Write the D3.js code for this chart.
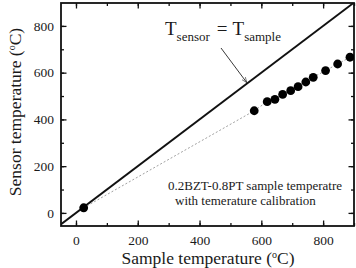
<!DOCTYPE html>
<html>
<head>
<meta charset="utf-8">
<script src="https://cdn.jsdelivr.net/npm/d3@7"></script>
<style>
  body { margin: 0; background: #fff; }
  svg text { font-family: "Liberation Serif", "Times New Roman", serif; fill: #1a1a1a; }
</style>
</head>
<body>
<div id="chart"></div>
<script>
// measured points (sample temp, sensor temp)
const sampleTemp = [25, 577, 619, 644, 669, 695, 719, 744, 768, 808, 847, 887];
const sensorTemp = [22, 437, 476, 486, 507, 523, 540, 560, 580, 609, 637, 666];
const xTicks = [0, 200, 400, 600, 800];
const yTicks = [0, 200, 400, 600, 800];

const margin = { top: 3, right: 2, bottom: 42, left: 61 };
const width = 356 - margin.left - margin.right;
const height = 268 - margin.top - margin.bottom;

const svg = d3.select("#chart")
    .append("svg")
    .attr("width", 356)
    .attr("height", 268)
    .append("g")
    .attr("transform", `translate(${margin.left},${margin.top})`);

const x = d3.scaleLinear().domain([-48.5, 900]).range([0, width]);
const y = d3.scaleLinear().domain([-56, 898]).range([height, 0]);

svg.append("defs").append("clipPath").attr("id", "clip")
    .append("rect").attr("width", width).attr("height", height);

// ticks on all four sides, pointing inward
const minor = d3.range(0, 901, 100);
function tickAxis(axis, scale, vals, len, labels) {
    return axis(scale).tickValues(vals).tickSizeInner(-len).tickSizeOuter(0)
        .tickFormat(labels ? d3.format("d") : "");
}
const bottomG = svg.append("g").attr("transform", `translate(0,${height})`);
bottomG.append("g").call(tickAxis(d3.axisBottom, x, minor, 3, false));
bottomG.append("g").call(tickAxis(d3.axisBottom, x, xTicks, 5.5, true));
const topG = svg.append("g");
topG.append("g").call(tickAxis(d3.axisTop, x, minor, 3, false));
topG.append("g").call(tickAxis(d3.axisTop, x, xTicks, 5.5, false));
const leftG = svg.append("g");
leftG.append("g").call(tickAxis(d3.axisLeft, y, d3.range(0, 801, 100), 3, false));
leftG.append("g").call(tickAxis(d3.axisLeft, y, yTicks, 5.5, true));
const rightG = svg.append("g").attr("transform", `translate(${width},0)`);
rightG.append("g").call(tickAxis(d3.axisRight, y, d3.range(0, 801, 100), 3, false));
rightG.append("g").call(tickAxis(d3.axisRight, y, yTicks, 5.5, false));

svg.selectAll(".domain").remove();
svg.selectAll(".tick line").attr("stroke", "#111").attr("stroke-width", 1.3);
bottomG.selectAll("text").attr("dy", "1.2em").style("font-size", "13.5px");
leftG.selectAll("text").attr("x", -7).style("font-size", "13.5px");

// frame
svg.append("rect")
    .attr("width", width).attr("height", height)
    .attr("fill", "none").attr("stroke", "#111").attr("stroke-width", 1.8);

const plot = svg.append("g").attr("clip-path", "url(#clip)");

// T_sensor = T_sample line
plot.append("line")
    .attr("x1", x(-60)).attr("y1", y(-60))
    .attr("x2", x(920)).attr("y2", y(920))
    .attr("stroke", "#111").attr("stroke-width", 1.8);

// dotted guide through the points
plot.append("path")
    .datum(sampleTemp.map((d, i) => [d, sensorTemp[i]]))
    .attr("fill", "none")
    .attr("stroke", "#888")
    .attr("stroke-width", 0.8)
    .attr("stroke-dasharray", "2,2")
    .attr("d", d3.line().x(d => x(d[0])).y(d => y(d[1])));

plot.selectAll("circle")
    .data(sampleTemp)
    .enter()
    .append("circle")
    .attr("cx", d => x(d))
    .attr("cy", (d, i) => y(sensorTemp[i]))
    .attr("r", 4.4)
    .attr("fill", "#000");

// equation label and arrow
const eq = svg.append("text")
    .attr("x", 165 - margin.left).attr("y", 35 - margin.top)
    .style("font-size", "19px");
eq.append("tspan").text("T");
eq.append("tspan").attr("dy", 6).style("font-size", "13px").text("sensor");
eq.append("tspan").attr("dy", -6).attr("dx", 7).text("=");
eq.append("tspan").attr("dx", 5).text("T");
eq.append("tspan").attr("dy", 6).style("font-size", "13px").text("sample");

svg.append("defs").append("marker")
    .attr("id", "arrow").attr("viewBox", "0 0 10 10")
    .attr("refX", 10).attr("refY", 5)
    .attr("markerWidth", 6).attr("markerHeight", 6)
    .attr("orient", "auto")
    .append("path").attr("d", "M0,1 L10,5 L0,9").attr("fill", "none").attr("stroke", "#222");

svg.append("line")
    .attr("x1", 221 - margin.left).attr("y1", 48 - margin.top)
    .attr("x2", x(553)).attr("y2", y(553) - 1)
    .attr("stroke", "#222").attr("stroke-width", 0.9)
    .attr("marker-end", "url(#arrow)");

// sample description
svg.append("text")
    .attr("x", 168 - margin.left).attr("y", 190 - margin.top)
    .style("font-size", "13px")
    .text("0.2BZT-0.8PT sample temperatre");
svg.append("text")
    .attr("x", 175 - margin.left).attr("y", 205 - margin.top)
    .style("font-size", "13px")
    .text("with temerature calibration");

// axis titles
const xt = svg.append("text")
    .attr("x", 208 - margin.left)
    .attr("y", 264 - margin.top)
    .attr("text-anchor", "middle")
    .style("font-size", "17.5px");
xt.append("tspan").text("Sample temperature (");
xt.append("tspan").attr("dy", -6).style("font-size", "10px").text("o");
xt.append("tspan").attr("dy", 6).text("C)");

const yt = svg.append("text")
    .attr("transform", `translate(${21 - margin.left},${112 - margin.top}) rotate(-90)`)
    .attr("text-anchor", "middle")
    .style("font-size", "17.5px");
yt.append("tspan").text("Sensor temperature (");
yt.append("tspan").attr("dy", -6).style("font-size", "10px").text("o");
yt.append("tspan").attr("dy", 6).text("C)");
</script>
</body>
</html>
